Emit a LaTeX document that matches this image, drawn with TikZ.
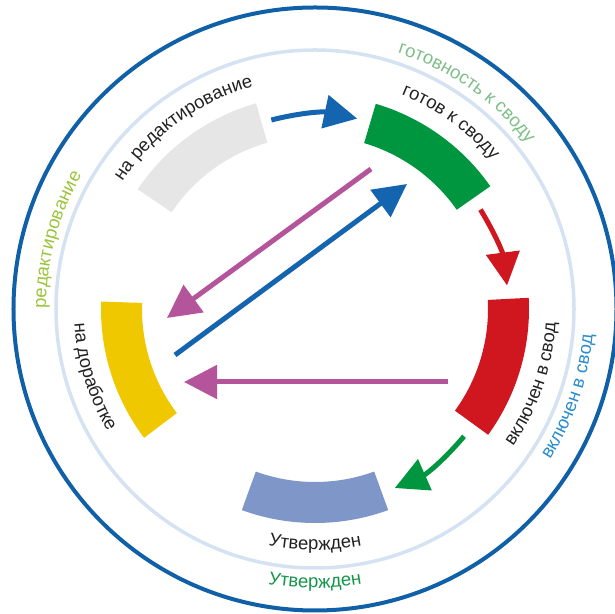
\documentclass[tikz,border=0pt]{standalone}
\usepackage{fontspec}
\setmainfont{Liberation Sans}
\usetikzlibrary{arrows.meta,decorations.text}

\definecolor{ringblue}{RGB}{16,96,168}
\definecolor{ringlight}{RGB}{212,226,242}
\definecolor{bandgray}{RGB}{230,230,230}
\definecolor{bandgreen}{RGB}{0,150,64}
\definecolor{bandred}{RGB}{208,22,31}
\definecolor{bandyellow}{RGB}{240,200,0}
\definecolor{bandslate}{RGB}{126,150,200}
\definecolor{arrmagenta}{RGB}{180,84,154}
\definecolor{arrblue}{RGB}{20,100,176}
\definecolor{txtdark}{RGB}{34,34,34}
\definecolor{txtlime}{RGB}{156,196,60}
\definecolor{txtmint}{RGB}{125,190,135}
\definecolor{txtsky}{RGB}{40,140,205}
\definecolor{txtgreen}{RGB}{20,150,74}

\begin{document}
\begin{tikzpicture}[
    arr/.style={-{Triangle[length=0.66cm,width=0.66cm]}, line width=0.1cm},
    arctext/.style 2 args={decorate, decoration={text along path, text align=center, text color=#1, text={|\fontsize{10.5}{12}\selectfont|#2}}}
]
\useasboundingbox (-6.30,-6.10) rectangle (6.00,6.18);

% rings
\draw[ringblue, line width=0.08cm] (0,0) circle (6.03);
\draw[ringlight, line width=0.07cm] (0,0) circle (5.18);

% status bands
\fill[bandgray] (106:3.46) arc[start angle=106, end angle=146, radius=3.46] -- (146:4.28) arc[start angle=146, end angle=106, radius=4.28] -- cycle;
\fill[bandgreen] (35:3.46) arc[start angle=35, end angle=73.5, radius=3.46] -- (73.5:4.28) arc[start angle=73.5, end angle=35, radius=4.28] -- cycle;
\fill[bandred] (-36:3.46) arc[start angle=-36, end angle=3, radius=3.46] -- (3:4.28) arc[start angle=3, end angle=-36, radius=4.28] -- cycle;
\fill[bandslate] (250:3.46) arc[start angle=250, end angle=290, radius=3.46] -- (290:4.28) arc[start angle=290, end angle=250, radius=4.28] -- cycle;
\fill[bandyellow] (178:3.46) arc[start angle=178, end angle=217, radius=3.46] -- (217:4.28) arc[start angle=217, end angle=178, radius=4.28] -- cycle;

% inner labels
\path[arctext={txtdark}{на редактирование}] (166:4.62) arc[start angle=166, end angle=86, radius=4.62];
\path[arctext={txtdark}{готов к своду}] (94:4.62) arc[start angle=94, end angle=14, radius=4.62];
\path[arctext={txtdark}{включен в свод}] (-59:4.82) arc[start angle=-59, end angle=21, radius=4.82];
\path[arctext={txtdark}{Утвержден}] (230:4.82) arc[start angle=230, end angle=310, radius=4.82];
\path[arctext={txtdark}{на доработке}] (157:4.82) arc[start angle=157, end angle=237, radius=4.82];

% outer labels
\path[arctext={txtlime}{редактирование}] (200:5.38) arc[start angle=200, end angle=130, radius=5.38];
\path[arctext={txtmint}{готовность к своду}] (90:5.38) arc[start angle=90, end angle=20, radius=5.38];
\path[arctext={txtsky}{включен в свод}] (-54:5.58) arc[start angle=-54, end angle=16, radius=5.58];
\path[arctext={txtgreen}{Утвержден}] (235:5.58) arc[start angle=235, end angle=305, radius=5.58];

% arrow ends
\coordinate (edit-out) at (103:3.88);
\coordinate (ready-in) at (77.5:3.90);
\coordinate (ready-out) at (31:3.86);
\coordinate (incl-in) at (7:3.87);
\coordinate (incl-out) at (-40.5:3.92);
\coordinate (appr-in) at (-66:3.92);
\coordinate (ready-back) at (1.12,2.80);
\coordinate (rework-top) at (-2.96,-0.18);
\coordinate (rework-out) at (-2.80,-0.92);
\coordinate (ready-low) at (1.84,2.50);
\coordinate (incl-back) at (2.66,-1.46);
\coordinate (rework-low) at (-2.62,-1.46);

\draw[arr, arrblue] (edit-out) to[bend left=13] (ready-in);
\draw[arr, bandred] (ready-out) to[bend left=12] (incl-in);
\draw[arr, bandgreen] (incl-out) to[bend left=13] (appr-in);
\draw[arr, arrmagenta] (ready-back) -- (rework-top);
\draw[arr, arrblue] (rework-out) -- (ready-low);
\draw[arr, arrmagenta] (incl-back) -- (rework-low);
\end{tikzpicture}
\end{document}
